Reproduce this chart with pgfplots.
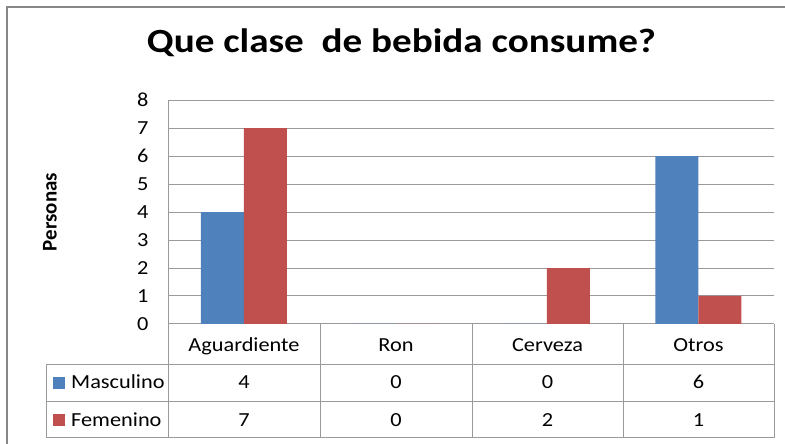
\documentclass[border=0pt]{standalone}
\usepackage{pgfplots}
\pgfplotsset{compat=1.18}
\usepackage{fontspec}
\setmainfont{Carlito}[FakeStretch=1.12]
\newfontfamily\titlefont{Carlito}[FakeStretch=1.155]
\newfontfamily\plainfont{Carlito}
\definecolor{mblue}{HTML}{4F81BD}
\definecolor{mred}{HTML}{C0504D}
\definecolor{gridc}{HTML}{9A9A9A}
\definecolor{framec}{HTML}{878787}
\newcommand{\tf}{\fontsize{20}{24}\selectfont}
\begin{document}
\begin{tikzpicture}
\useasboundingbox (0,0) rectangle (785bp,444bp);
\draw[framec, line width=2bp] (7bp,-2bp) -- (7bp,436.5bp) -- (787bp,436.5bp);
\node[font=\titlefont\fontsize{34}{38}\selectfont\bfseries, anchor=base, inner sep=0pt] at (401.5bp,391bp) {Que clase\ \ de bebida consume?};
\begin{axis}[
  at={(168bp,120bp)}, anchor=south west, scale only axis,
  width=606bp, height=224bp,
  ybar, bar width=43bp, ybar=0pt,
  xmin=-0.5, xmax=3.5, ymin=0, ymax=8,
  ytick={0,...,8}, xtick=\empty,
  axis x line*=bottom, axis y line*=left,
  axis line style={gridc, line width=1bp, -},
  major tick length=0pt,
  ymajorgrids, grid style={gridc, line width=1bp},
  yticklabel style={font=\tf, xshift=-16bp},
  /pgf/number format/assume math mode=true,
  ylabel={Personas},
  ylabel style={font=\plainfont\fontsize{21}{24}\selectfont\bfseries, at={(axis description cs:-0.195,0.5)}, anchor=center},
]
\addplot[fill=mblue, draw=none] coordinates {(0,4) (1,0) (2,0) (3,6)};
\addplot[fill=mred, draw=none] coordinates {(0,7) (1,0) (2,2) (3,1)};
\end{axis}
% data table below the chart
\begin{scope}[gridc, line width=1bp]
\draw (46bp,79bp) -- (774bp,79bp);
\draw (46bp,42bp) -- (774bp,42bp);
\draw (46bp,6bp) -- (774bp,6bp);
\draw (46bp,6bp) -- (46bp,79bp);
\foreach \x in {168,320,472,623,774} {\draw (\x bp,6bp) -- (\x bp,120bp);}
\end{scope}
\foreach \x/\t in {244/Aguardiente,396/Ron,547.5/Cerveza,698.5/Otros}
  {\node[font=\tf, anchor=base, inner sep=0pt] at (\x bp,92bp) {\t};}
\foreach \x/\a/\b in {244/4/7,396/0/0,547.5/0/2,698.5/6/1}
  {\node[font=\tf, anchor=base, inner sep=0pt] at (\x bp,55bp) {\a};
   \node[font=\tf, anchor=base, inner sep=0pt] at (\x bp,18bp) {\b};}
\fill[mblue] (53bp,55bp) rectangle (65bp,67bp);
\fill[mred] (53bp,18bp) rectangle (65bp,30bp);
\node[font=\tf, anchor=base west, inner sep=0pt] at (71bp,55bp) {Masculino};
\node[font=\tf, anchor=base west, inner sep=0pt] at (71bp,18bp) {Femenino};
\end{tikzpicture}
\end{document}
